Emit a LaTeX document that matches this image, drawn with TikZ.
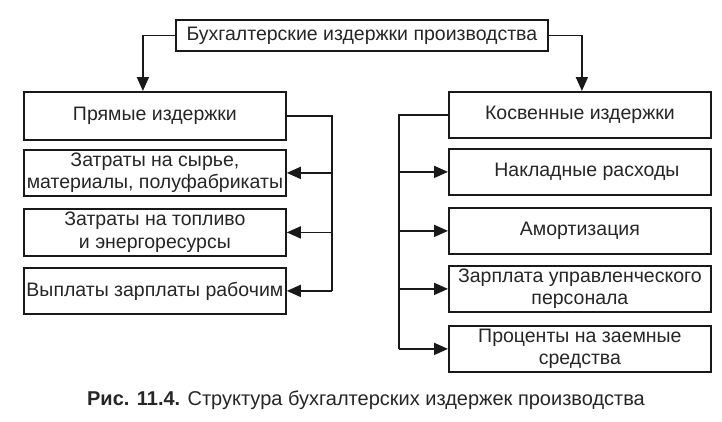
\documentclass[tikz,border=0pt]{standalone}
\usepackage{fontspec}
\setmainfont{Liberation Sans}
\usetikzlibrary{arrows.meta, positioning, calc}
\colorlet{linecol}{black!90}

\begin{document}
\begin{tikzpicture}[
				x=1pt, y=-1pt,
				box/.style={
						draw=linecol,
						fill=white,
						line width=1.8pt,
						minimum width=262pt,
						minimum height=46pt,
						align=center,
						inner sep=1pt,
						font=\fontsize{19.5}{22.5}\selectfont,
						text=black!85,
						anchor=north west,
					},
				bus/.style={
						draw=linecol, line width=1.8pt,
					},
				arrow/.style={
						bus, -{Triangle[length=14pt, width=12pt]},
					},
			]

			% Rahmen
			\useasboundingbox (0,0) rectangle (722,421);

			% Oberer Kasten
			\node[box, minimum width=372pt, minimum height=31pt] (total) at (175,19) {Бухгалтерские издержки производства};

			% Linke Spalte
			\node[box, minimum height=48pt] (direct) at (23,91) {Прямые издержки};
			\node[box] (raw) at (23,149) {Затраты на сырье,\\материалы, полуфабрикаты};
			\node[box, minimum height=47pt] (fuel) at (23,208) {Затраты на топливо\\и энергоресурсы};
			\node[box] (wages) at (23,267) {Выплаты зарплаты рабочим};

			% Rechte Spalte
			\node[box] (indirect) at (448,91) {Косвенные издержки};
			\node[box] (overhead) at (448,148) {\hspace*{14pt}Накладные расходы};
			\node[box] (amort) at (448,207) {Амортизация};
			\node[box] (staff) at (448,265) {Зарплата управленческого\\персонала};
			\node[box] (loans) at (448,325) {Проценты на заемные\\средства};

			% Pfeile vom oberen Kasten
			\draw[arrow] (total.west) -| ([xshift=-12pt]direct.north);
			\draw[arrow] (total.east) -| ([xshift=2pt]indirect.north);

			% Linke Sammelleitung
			\coordinate (lbus) at (332,0);
			\draw[bus] (direct.east) -| (lbus |- wages.east);
			\foreach \n in {raw,fuel,wages} {
					\draw[arrow] (lbus |- \n.east) -- (\n.east);
				}

			% Rechte Sammelleitung
			\coordinate (rbus) at (399,0);
			\draw[bus] (indirect.west) -| (rbus |- loans.west);
			\foreach \n in {overhead,amort,staff,loans} {
					\draw[arrow] (rbus |- \n.west) -- (\n.west);
				}

			% Bildunterschrift
			\node[font=\fontsize{20}{23}\selectfont, text=black!85] (caption) at (366,400) {\textbf{Рис. 11.4.} Структура бухгалтерских издержек производства};

		\end{tikzpicture}
\end{document}
